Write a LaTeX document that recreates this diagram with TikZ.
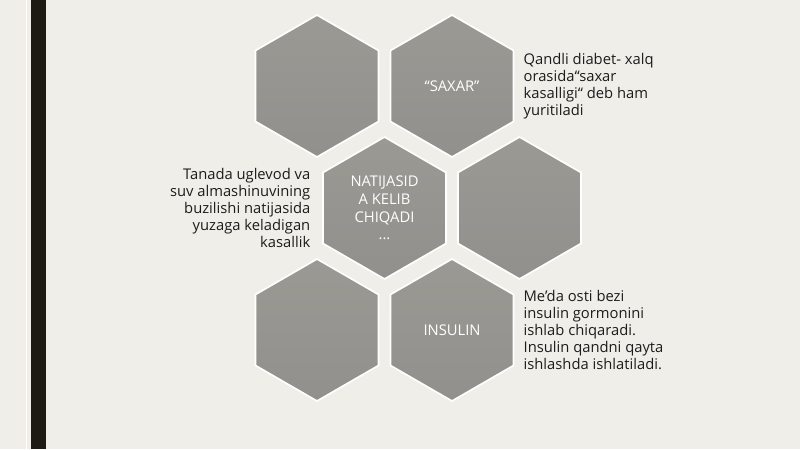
\documentclass[tikz,border=0pt]{standalone}
\usepackage{fontspec}
\setmainfont{Open Sans}
\usetikzlibrary{positioning,shapes.geometric}
\definecolor{bgcream}{RGB}{240,238,232}
\definecolor{barblack}{RGB}{30,27,20}
\definecolor{hexlight}{RGB}{154,153,148}
\definecolor{hexdark}{RGB}{145,144,140}
\definecolor{textdark}{RGB}{28,28,28}

\begin{document}
\begin{tikzpicture}[
hex/.style={regular polygon, regular polygon sides=6, shape border rotate=30,
  minimum size=3.55cm, inner sep=0pt, top color=hexlight, bottom color=hexdark,
  draw=white, line width=1.2pt, text=white, align=center,
  font=\fontsize{10.5}{12.5}\selectfont, on grid},
note/.style={text=textdark, font=\fontsize{10.5}{12}\selectfont, inner sep=0pt}
]
\fill[bgcream] (0,0) rectangle (20,-11.225);
\useasboundingbox (0,0) rectangle (20,-11.225);
\draw[white, line width=0.5pt] (0.66,0) -- (0.66,-11.225);
\fill[barblack] (0.78,0) rectangle (1.15,-11.225);
\node[hex] (h1) at (7.925,-2.15) {};
\node[hex, right=3.375cm of h1] (h2) {“SAXAR”};
\node[hex, below right=3.05cm and 1.6875cm of h1] (h3) {NATIJASID\\A KELIB\\CHIQADI\\...};
\node[hex, right=3.375cm of h3] (h4) {};
\node[hex, below left=3.05cm and 1.6875cm of h3] (h5) {};
\node[hex, right=3.375cm of h5] (h6) {INSULIN};
\node[note, align=right, left=0.29cm of h3] (t1) {Tanada uglevod va\\suv almashinuvining\\buzilishi natijasida\\yuzaga keladigan\\kasallik};
\node[note, align=left, right=0.225cm of h2] (t2) {Qandli diabet- xalq\\orasida“saxar\\kasalligi“ deb ham\\yuritiladi};
\node[note, align=left, right=0.225cm of h6] (t3) {Me’da osti bezi\\insulin gormonini\\ishlab chiqaradi.\\Insulin qandni qayta\\ishlashda ishlatiladi.};
\end{tikzpicture}
\end{document}
